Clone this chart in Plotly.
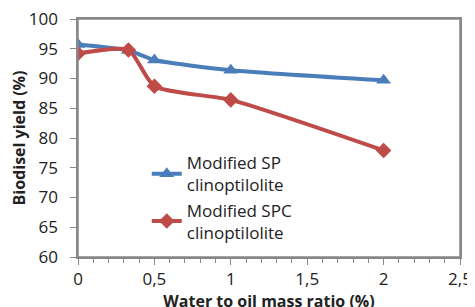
import plotly.graph_objects as go

x_vals = [0, 0.33, 0.5, 1, 2]
sp_yield = [95.7, 94.7, 93.1, 91.4, 89.7]
spc_yield = [94.2, 94.8, 88.7, 86.4, 77.9]
series_names = ["Modified SP<br>clinoptilolite", "Modified SPC<br>clinoptilolite"]
x_ticks = [0, 0.5, 1, 1.5, 2, 2.5]
x_ticktext = ["0", "0,5", "1", "1,5", "2", "2,5"]
y_range = [60, 100]
x_range = [0, 2.5]

fig = go.Figure()
fig.add_trace(go.Scatter(x=x_vals, y=sp_yield, name=series_names[0], mode="lines+markers",
                         line=dict(color="#4A7EBB", width=4, shape="spline", smoothing=0.6),
                         marker=dict(symbol="triangle-up", size=13, color="#4A7EBB")))
fig.add_trace(go.Scatter(x=x_vals, y=spc_yield, name=series_names[1], mode="lines+markers",
                         line=dict(color="#BE4B48", width=4, shape="spline", smoothing=0.6),
                         marker=dict(symbol="diamond", size=12, color="#BE4B48")))

fnt = "Open Sans, Liberation Sans, Arial, sans-serif"
# plot frame drawn as a paper-referenced rectangle
fig.add_shape(type="rect", xref="paper", yref="paper", x0=0, x1=1, y0=0, y1=1,
              line=dict(color="#888", width=1.5), fillcolor="rgba(0,0,0,0)", layer="above")
# the page shows the figure offset by 8px (body margin); margins compensate
fig.update_layout(
    width=475, height=307,
    margin=dict(l=70, r=23, t=11, b=58),
    paper_bgcolor="white", plot_bgcolor="white",
    separators=", ",
    font=dict(family=fnt, size=16, color="#222"),
    legend=dict(x=0.18, y=0.47, xanchor="left", yanchor="top", bgcolor="rgba(0,0,0,0)",
                font=dict(size=17), tracegroupgap=1),
    xaxis=dict(range=x_range, showline=True, linecolor="#888",
               linewidth=1.5, mirror=True, ticks="outside", ticklen=6, tickcolor="#888",
               showgrid=False, zeroline=False, automargin=False, ticklabeloverflow="allow",
               minor=dict(dtick=0.1, ticks="outside", ticklen=4, tickcolor="#888"),
               title=dict(text="<b>Water to oil mass ratio (%)</b>", font=dict(size=16), standoff=4),
               tickvals=x_ticks, ticktext=x_ticktext, tickfont=dict(size=17)),
    yaxis=dict(range=y_range, dtick=5, showline=True, linecolor="#888", linewidth=1.5,
               mirror=True, ticks="outside", ticklen=6, tickcolor="#888", showgrid=False,
               zeroline=False, automargin=False, tickfont=dict(size=17),
               ticksuffix="\u00a0\u00a0", ticklabeloverflow="allow",
               title=dict(text="<b>Biodisel yield (%)</b>", font=dict(size=16), standoff=9)),
)
fig.write_html("out.html")
